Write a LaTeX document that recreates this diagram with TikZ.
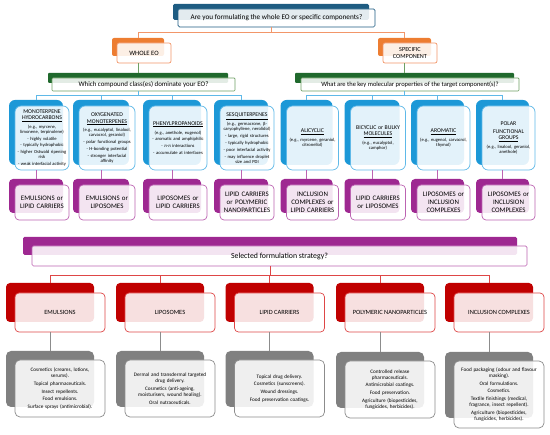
\documentclass[tikz,border=0pt]{standalone}
\usepackage{fontspec}
\setmainfont{Carlito}
\usetikzlibrary{calc}

\definecolor{qblue}{RGB}{30,92,130}
\definecolor{qorng}{RGB}{237,125,49}
\definecolor{qorngl}{RGB}{242,150,105}
\definecolor{qgrn}{RGB}{32,105,45}
\definecolor{qgrnl}{RGB}{110,160,100}
\definecolor{qcyan}{RGB}{28,152,215}
\definecolor{qcyanl}{RGB}{95,185,232}
\definecolor{qprp}{RGB}{158,40,145}
\definecolor{qprpl}{RGB}{188,100,178}
\definecolor{qred}{RGB}{192,0,0}
\definecolor{qredl}{RGB}{222,70,70}
\definecolor{qgry}{RGB}{128,128,128}
\definecolor{qgryl}{RGB}{140,140,140}

\newcommand{\ttl}[1]{{\fontsize{5.8}{6.6}\selectfont #1}}
\newcommand{\nx}{\\[1.7pt]}

\begin{document}
\begin{tikzpicture}
      [x=1pt,y=-1pt
      ,bk/.style={fill=#1,draw=none,inner sep=0pt}
      ,fr/.style={draw=#1,fill=white,fill opacity=.88,text opacity=1,line width=.7pt,inner sep=0pt,align=center}
      ,lnk/.style={draw=#1,line width=.8pt}
      ,qtxt/.style={font=\fontsize{6.9}{8}\selectfont}
      ,btxt/.style={font=\fontsize{4.6}{5.1}\selectfont}
      ,ptxt/.style={font=\fontsize{6.9}{7.8}\selectfont}
      ,gtxt/.style={font=\fontsize{5.2}{6.1}\selectfont}
      ]
        \useasboundingbox (0,0) rectangle (550,435);
        \coordinate (jo) at (0,32);
        \coordinate (jb) at (0,95);
        \coordinate (jr) at (0,275);

        % first question
        \node[bk=qblue,rounded corners=1.5pt,minimum width=196pt,minimum height=16pt] (topb) at (271,12) {};
        \node[fr=qblue,rounded corners=1.5pt,minimum width=197pt,minimum height=18pt,font=\fontsize{7.2}{8.4}\selectfont] (topf) at (276.5,18) {Are you formulating the whole EO or specific components?};

        \node[bk=qorng,rounded corners=2pt,minimum width=52pt,minimum height=18pt] (weob) at (138,47) {};
        \node[fr=qorngl,rounded corners=2pt,minimum width=54pt,minimum height=20pt,font=\fontsize{6.6}{7.6}\selectfont] (weof) at (144,53) {WHOLE EO};
        \node[bk=qorng,rounded corners=2pt,minimum width=53pt,minimum height=18pt] (specb) at (404.5,47) {};
        \node[fr=qorngl,rounded corners=2pt,minimum width=54pt,minimum height=20pt,font=\fontsize{6.2}{7.3}\selectfont] (specf) at (410,53) {SPECIFIC\\COMPONENT};

        \node[bk=qgrn,rounded corners=1pt,minimum width=180pt,minimum height=10pt] (gb1) at (138,78) {};
        \node[fr=qgrnl,rounded corners=1pt,minimum width=183pt,minimum height=13pt,qtxt] (gf1) at (143.5,84.5) {Which compound class(es) dominate your EO?};
        \node[bk=qgrn,rounded corners=1pt,minimum width=219pt,minimum height=10pt] (gb2) at (404.5,78) {};
        \node[fr=qgrnl,rounded corners=1pt,minimum width=218pt,minimum height=13pt,font=\fontsize{6.5}{7.6}\selectfont] (gf2) at (410,84.5) {What are the key molecular properties of the target component(s)?};

        \draw[lnk=qorngl] (topb |- topf.south) |- (jo -| weob) -- (weob.north);
        \draw[lnk=qorngl] (topb |- topf.south) |- (jo -| specb) -- (specb.north);
        \draw[lnk=qgrnl] (weob |- weof.south) -- (gb1.north);
        \draw[lnk=qgrnl] (specb |- specf.south) -- (gb2.north);

        % compound classes and properties
        \foreach \i/\c/\w/\bt/\pt in {
          1/36/54/{\ttl{MONOTERPENE\\[1.2pt]\underline{HYDROCARBONS}}\\[2pt](e.g., myrcene,\\limonene, terpinolene)\nx- highly volatile\nx- typically hydrophobic\nx- higher Ostwald ripening\\risk\nx- weak interfacial activity}/{EMULSIONS or\\LIPID CARRIERS},
          2/101/56/{\ttl{OXYGENATED\\[1.2pt]\underline{MONOTERPENES}}\\[2pt](e.g., eucalyptol, linalool,\\carvacrol, geraniol)\nx- polar functional groups\nx- H-bonding potential\nx- stronger interfacial\\affinity}/{EMULSIONS or\\LIPOSOMES},
          3/172/58/{\ttl{\underline{PHENYLPROPANOIDS}}\\[2.5pt](e.g., anethole, eugenol)\nx- aromatic and amphiphilic\nx- π-π interactions\nx- accumulate at interfaces}/{LIPOSOMES or\\LIPID CARRIERS},
          4/241/54/{\ttl{\underline{SESQUITERPENES}}\\[2pt](e.g., germacrone, β-\\caryophyllene, nerolidol)\nx- large, rigid structures\nx- typically hydrophobic\nx- poor interfacial activity\nx- may influence droplet\\size and PDI}/{LIPID CARRIERS\\or POLYMERIC\\NANOPARTICLES},
          5/306.5/52/{\ttl{\underline{ALICYCLIC}}\\[2.5pt](e.g., myrcene, geraniol,\\citronellol)}/{INCLUSION\\COMPLEXES or\\LIPID CARRIERS},
          6/372/55/{\ttl{BICYCLIC or BULKY\\[1.2pt]\underline{MOLECULES}}\\[2.5pt](e.g., eucalyptol,\\camphor)}/{LIPID CARRIERS\\or LIPOSOMES},
          7/437.5/53/{\ttl{\underline{AROMATIC}}\\[2.5pt](e.g., eugenol, carvacrol,\\thymol)}/{LIPOSOMES or\\INCLUSION\\COMPLEXES},
          8/502.5/53/{\ttl{POLAR\\[1.2pt]FUNCTIONAL\\[1.2pt]\underline{GROUPS}}\\[2.5pt](e.g., linalool, geraniol,\\anethole)}/{LIPOSOMES or\\INCLUSION\\COMPLEXES}}
        {
            \node[bk=qcyan,rounded corners=6pt,minimum width=\w pt,minimum height=65pt] (bb\i) at (\c,132.5) {};
            \node[fr=qcyanl,rounded corners=6pt,minimum width=\w pt,minimum height=64pt,text width=\w pt,btxt] (bf\i) at (\c+6,138) {\bt};
            \node[bk=qprp,rounded corners=4pt,minimum width=\w pt,minimum height=34pt] (pb\i) at (\c,196) {};
            \node[fr=qprpl,rounded corners=4pt,minimum width=\w pt,minimum height=35pt,text width=\w pt,ptxt] (pf\i) at (\c+6,202.5) {\pt};
            \draw[lnk=qprpl] (bb\i |- bf\i.south) -- (pb\i.north);
        }
        \foreach \i in {1,...,4}
            \draw[lnk=qcyanl] (gb1 |- gf1.south) |- (jb -| bb\i) -- (bb\i.north);
        \foreach \i in {5,...,8}
            \draw[lnk=qcyanl] (gb2 |- gf2.south) |- (jb -| bb\i) -- (bb\i.north);

        % formulation strategy
        \node[bk=qprp,rounded corners=1.5pt,minimum width=494pt,minimum height=18pt] (selb) at (270,246) {};
        \node[fr=qprpl,rounded corners=1.5pt,minimum width=495pt,minimum height=20pt,font=\fontsize{7.8}{9}\selectfont] (self) at (279.5,256) {Selected formulation strategy?};

        \foreach \i/\c/\rt/\gy/\gh/\gt in {
          1/50/EMULSIONS/379/56/{Cosmetics (creams, lotions,\\serums).\nx Topical pharmaceuticals.\nx Insect repellents.\nx Food emulsions.\nx Surface sprays (antimicrobial).},
          2/160/LIPOSOMES/379/56/{Dermal and transdermal targeted\\drug delivery.\nx Cosmetics (anti-ageing,\\moisturisers, wound healing).\nx Oral nutraceuticals.},
          3/269.5/LIPID CARRIERS/379/56/{Topical drug delivery.\nx Cosmetics (sunscreens).\nx Wound dressings.\nx Food preservation coatings.},
          4/380/POLYMERIC NANOPARTICLES/380/56/{Controlled release\\pharmaceuticals.\nx Antimicrobial coatings.\nx Food preservation.\nx Agriculture (biopesticides,\\fungicides, herbicides).},
          5/489/INCLUSION COMPLEXES/385/66/{Food packaging (odour and flavour\\masking).\nx Oral formulations.\nx Cosmetics.\nx Textile finishings (medical,\\fragrance, insect repellent).\nx Agriculture (biopesticides,\\fungicides, herbicides).}}
        {
            \node[bk=qred,rounded corners=4pt,minimum width=88pt,minimum height=39pt] (rb\i) at (\c,302.5) {};
            \node[fr=qredl,rounded corners=4pt,minimum width=90pt,minimum height=39pt,font=\fontsize{6.4}{7.6}\selectfont] (rf\i) at (\c+10,312.5) {\rt};
            \node[bk=qgry,rounded corners=5pt,minimum width=88pt,minimum height=\gh pt] (yb\i) at (\c,\gy) {};
            \node[fr=qgryl,rounded corners=5pt,minimum width=90pt,minimum height=\gh pt+1pt,text width=90pt,gtxt] (yf\i) at (\c+10,\gy+9.5) {\gt};
            \draw[lnk=qredl] (self.south -| selb) |- (jr -| rb\i) -- (rb\i.north);
            \draw[lnk=qgryl] (rb\i |- rf\i.south) -- (yb\i.north);
        }

\end{tikzpicture}
\end{document}
